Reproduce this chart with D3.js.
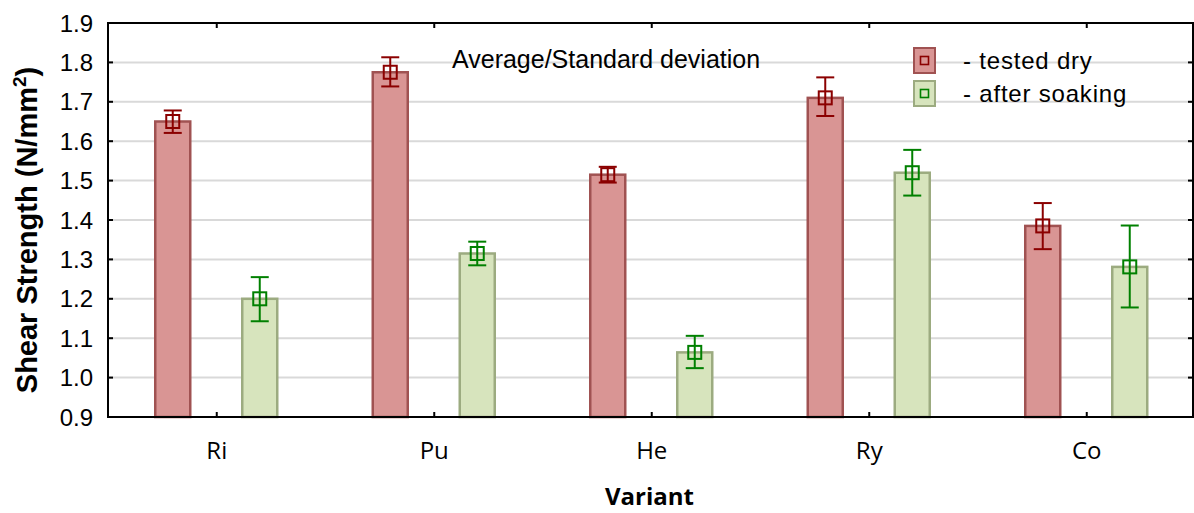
<!DOCTYPE html>
<html>
<head>
<meta charset="utf-8">
<script src="https://cdn.jsdelivr.net/npm/d3@7"></script>
<style>
	body { margin: 0; background: #fff; }
	text { font-family: "Liberation Sans", Arial, sans-serif; fill: #000; }
</style>
</head>
<body>
<div id="chart"></div>
<script>
// data
var variants = ["Ri", "Pu", "He", "Ry", "Co"];
var dryMean = [1.650, 1.775, 1.515, 1.710, 1.385];
var dryLow = [1.621, 1.739, 1.495, 1.664, 1.326];
var dryHigh = [1.678, 1.813, 1.535, 1.762, 1.443];
var soakMean = [1.200, 1.315, 1.064, 1.520, 1.281];
var soakLow = [1.143, 1.285, 1.024, 1.462, 1.178];
var soakHigh = [1.255, 1.345, 1.106, 1.578, 1.386];
var yTicks = [0.9, 1.0, 1.1, 1.2, 1.3, 1.4, 1.5, 1.6, 1.7, 1.8, 1.9];
var seriesNames = ["- tested dry", "- after soaking"];

var series = [
	{ name: seriesNames[0], mean: dryMean, low: dryLow, high: dryHigh,
		fill: "#d99594", stroke: "#a05252", err: "#8b0000", offset: -44 },
	{ name: seriesNames[1], mean: soakMean, low: soakLow, high: soakHigh,
		fill: "#d7e4bd", stroke: "#9cab80", err: "#008000", offset: 43 }
];

var W = 1194, H = 513;
var margin = { top: 23, right: 1, bottom: 96, left: 108 };
var width = W - margin.left - margin.right,
	height = H - margin.top - margin.bottom;

var svg = d3.select("#chart")
	.append("svg")
	.attr("width", W)
	.attr("height", H)
	.append("g")
	.attr("transform", "translate(" + margin.left + "," + margin.top + ")");

var x = d3.scaleBand()
	.domain(variants)
	.range([0, 1087.5]);

var y = d3.scaleLinear()
	.domain([0.9, 1.9])
	.range([height, 0]);

// gridlines
svg.append("g")
	.selectAll("line")
	.data(yTicks.slice(1, -1))
	.enter()
	.append("line")
	.attr("x1", 0)
	.attr("x2", width)
	.attr("y1", function(d) { return y(d); })
	.attr("y2", function(d) { return y(d); })
	.style("stroke", "#d9d9d9")
	.style("stroke-width", 2);

// bars, error bars, markers
series.forEach(function(s) {
	var rows = variants.map(function(v, i) {
		return { v: v, mean: s.mean[i], low: s.low[i], high: s.high[i] };
	});
	var bw = 35;
	var g = svg.append("g");

	g.selectAll("rect")
		.data(rows)
		.enter()
		.append("rect")
		.attr("x", function(d) { return x(d.v) + x.bandwidth() / 2 + s.offset - bw / 2; })
		.attr("y", function(d) { return y(d.mean); })
		.attr("width", bw)
		.attr("height", function(d) { return height - y(d.mean); })
		.style("fill", s.fill)
		.style("stroke", s.stroke)
		.style("stroke-width", 2.5);

	var cx = function(d) { return x(d.v) + x.bandwidth() / 2 + s.offset; };

	g.selectAll(".whisker")
		.data(rows)
		.enter()
		.append("line")
		.attr("x1", cx)
		.attr("x2", cx)
		.attr("y1", function(d) { return y(d.low); })
		.attr("y2", function(d) { return y(d.high); })
		.style("stroke", s.err)
		.style("stroke-width", 2);

	["low", "high"].forEach(function(k) {
		g.selectAll(".cap-" + k)
			.data(rows)
			.enter()
			.append("line")
			.attr("x1", function(d) { return cx(d) - 9; })
			.attr("x2", function(d) { return cx(d) + 9; })
			.attr("y1", function(d) { return y(d[k]); })
			.attr("y2", function(d) { return y(d[k]); })
			.style("stroke", s.err)
			.style("stroke-width", 2);
	});

	g.selectAll(".marker")
		.data(rows)
		.enter()
		.append("rect")
		.attr("x", function(d) { return cx(d) - 6.5; })
		.attr("y", function(d) { return y(d.mean) - 6.5; })
		.attr("width", 13)
		.attr("height", 13)
		.style("fill", "none")
		.style("stroke", s.err)
		.style("stroke-width", 2);
});

// frame
svg.append("rect")
	.attr("x", 0)
	.attr("y", 0)
	.attr("width", width)
	.attr("height", height)
	.style("fill", "none")
	.style("stroke", "#000")
	.style("stroke-width", 2);

// y axis labels and inward ticks
var yAxis = svg.append("g");
yAxis.selectAll("text")
	.data(yTicks)
	.enter()
	.append("text")
	.attr("x", -15)
	.attr("y", function(d) { return y(d); })
	.attr("dy", "0.36em")
	.attr("text-anchor", "end")
	.style("font-size", "24px")
	.text(function(d) { return d3.format(".1f")(d); });
yAxis.selectAll(".tl")
	.data(yTicks)
	.enter()
	.append("line")
	.attr("x1", 0).attr("x2", 5)
	.attr("y1", function(d) { return y(d); })
	.attr("y2", function(d) { return y(d); })
	.style("stroke", "#000").style("stroke-width", 2);
yAxis.selectAll(".tr")
	.data(yTicks)
	.enter()
	.append("line")
	.attr("x1", width - 5).attr("x2", width)
	.attr("y1", function(d) { return y(d); })
	.attr("y2", function(d) { return y(d); })
	.style("stroke", "#000").style("stroke-width", 2);

// x categories and ticks
var xAxis = svg.append("g");
xAxis.selectAll("text")
	.data(variants)
	.enter()
	.append("text")
	.attr("x", function(d) { return x(d) + x.bandwidth() / 2; })
	.attr("y", height + 42)
	.attr("text-anchor", "middle")
	.style("font-family", "'Open Sans', sans-serif")
	.style("font-size", "24px")
	.text(function(d) { return d; });
xAxis.selectAll(".tb")
	.data(variants)
	.enter()
	.append("line")
	.attr("x1", function(d) { return x(d) + x.bandwidth() / 2; })
	.attr("x2", function(d) { return x(d) + x.bandwidth() / 2; })
	.attr("y1", height).attr("y2", height - 5)
	.style("stroke", "#000").style("stroke-width", 2);
xAxis.selectAll(".tt")
	.data(variants)
	.enter()
	.append("line")
	.attr("x1", function(d) { return x(d) + x.bandwidth() / 2; })
	.attr("x2", function(d) { return x(d) + x.bandwidth() / 2; })
	.attr("y1", 0).attr("y2", 5)
	.style("stroke", "#000").style("stroke-width", 2);

// axis titles
svg.append("text")
	.attr("x", width / 2 - 1)
	.attr("y", height + 88)
	.attr("text-anchor", "middle")
	.style("font-family", "'Open Sans', sans-serif")
	.style("font-weight", "bold")
	.style("font-size", "24px")
	.text("Variant");

var yt = svg.append("text")
	.attr("transform", "translate(-71," + (height / 2 + 10) + ") rotate(-90)")
	.attr("text-anchor", "middle")
	.style("font-weight", "bold")
	.style("font-size", "29px");
yt.append("tspan").text("Shear Strength (N/mm");
yt.append("tspan").attr("dy", -11).style("font-size", "19px").text("2");
yt.append("tspan").attr("dy", 11).text(")");

// note and legend
svg.append("text")
	.attr("x", 344)
	.attr("y", 45)
	.style("font-size", "25px")
	.text("Average/Standard deviation");

var legend = svg.selectAll(".legend")
	.data(series)
	.enter()
	.append("g")
	.attr("class", "legend")
	.attr("transform", function(d, i) {
		return "translate(806," + (25 + i * 33) + ")";
	});
legend.append("rect")
	.attr("width", 21)
	.attr("height", 25)
	.style("fill", function(d) { return d.fill; })
	.style("stroke", function(d) { return d.stroke; })
	.style("stroke-width", 2);
legend.append("rect")
	.attr("x", 6.5)
	.attr("y", 8.5)
	.attr("width", 8)
	.attr("height", 8)
	.style("fill", "none")
	.style("stroke", function(d) { return d.err; })
	.style("stroke-width", 1.6);
legend.append("text")
	.attr("x", 49)
	.attr("y", 12)
	.attr("dy", "0.36em")
	.style("font-size", "24px")
	.style("letter-spacing", "0.8px")
	.text(function(d) { return d.name; });
</script>
</body>
</html>
